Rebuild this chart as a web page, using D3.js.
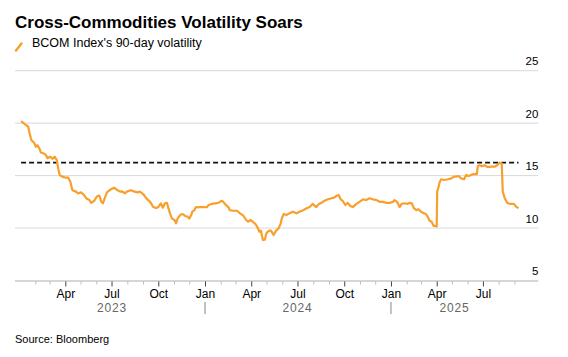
<!DOCTYPE html>
<html><head><meta charset="utf-8">
<script src="https://cdn.jsdelivr.net/npm/d3@7"></script>
<style>
html,body{margin:0;padding:0;background:#fff;}
svg{display:block;font-family:"Liberation Sans",Arial,sans-serif;}
</style></head>
<body><svg id="c" width="568" height="357"></svg>
<script>
const title = "Cross-Commodities Volatility Soars";
const seriesName = "BCOM Index's 90-day volatility";
const source = "Source: Bloomberg";
const threshold = 16.23;
const yTicks = [5, 10, 15, 20, 25];
const xDomain = ["2022-12-23", "2025-10-18"];
const dates = [
"2023-01-04","2023-01-14","2023-01-18","2023-01-21","2023-01-24","2023-01-30","2023-02-02","2023-02-05","2023-02-09","2023-02-12",
"2023-02-18","2023-02-22","2023-02-25","2023-03-02","2023-03-07","2023-03-11","2023-03-15","2023-03-18","2023-03-21","2023-03-26",
"2023-04-02","2023-04-07","2023-04-11","2023-04-15","2023-04-22","2023-04-26","2023-05-02","2023-05-08","2023-05-13","2023-05-18",
"2023-05-22","2023-05-28","2023-06-02","2023-06-07","2023-06-11","2023-06-14","2023-06-18","2023-06-22","2023-06-30","2023-07-06",
"2023-07-13","2023-07-18","2023-07-22","2023-07-27","2023-08-01","2023-08-08","2023-08-14","2023-08-21","2023-08-26","2023-09-02",
"2023-09-08","2023-09-15","2023-09-21","2023-09-27","2023-10-01","2023-10-06","2023-10-10","2023-10-14","2023-10-18","2023-10-21",
"2023-10-24","2023-10-28","2023-11-02","2023-11-05","2023-11-08","2023-11-13","2023-11-18","2023-11-23","2023-11-27","2023-12-01",
"2023-12-05","2023-12-07","2023-12-11","2023-12-14","2023-12-17","2023-12-22","2023-12-29","2024-01-05","2024-01-08","2024-01-14",
"2024-01-21","2024-01-27","2024-02-03","2024-02-06","2024-02-11","2024-02-16","2024-02-19","2024-02-25","2024-03-04","2024-03-10",
"2024-03-17","2024-03-22","2024-03-26","2024-03-30","2024-04-04","2024-04-09","2024-04-13","2024-04-17","2024-04-20","2024-04-24",
"2024-04-28","2024-04-30","2024-05-03","2024-05-07","2024-05-10","2024-05-15","2024-05-20","2024-05-25","2024-05-29","2024-05-31",
"2024-06-04","2024-06-09","2024-06-15","2024-06-22","2024-06-29","2024-07-05","2024-07-12","2024-07-19","2024-07-25","2024-07-31",
"2024-08-07","2024-08-12","2024-08-17","2024-08-23","2024-08-30","2024-09-06","2024-09-11","2024-09-15","2024-09-20","2024-09-24",
"2024-09-28","2024-10-03","2024-10-08","2024-10-13","2024-10-18","2024-10-25","2024-10-31","2024-11-07","2024-11-13","2024-11-20",
"2024-11-26","2024-12-03","2024-12-10","2024-12-16","2024-12-23","2024-12-29","2025-01-05","2025-01-08","2025-01-13","2025-01-18",
"2025-01-22","2025-01-28","2025-02-02","2025-02-07","2025-02-11","2025-02-15","2025-02-20","2025-02-24","2025-03-01","2025-03-07",
"2025-03-11","2025-03-14","2025-03-18","2025-03-22","2025-03-26","2025-03-30","2025-04-01","2025-04-02","2025-04-04","2025-04-07",
"2025-04-10","2025-04-16","2025-04-23","2025-04-30","2025-05-05","2025-05-09","2025-05-14","2025-05-19","2025-05-25","2025-05-29",
"2025-06-03","2025-06-08","2025-06-13","2025-06-19","2025-06-21","2025-06-24","2025-06-29","2025-07-04","2025-07-11","2025-07-17",
"2025-07-24","2025-07-29","2025-08-03","2025-08-07","2025-08-09","2025-08-13","2025-08-18","2025-08-24","2025-08-31","2025-09-05",
"2025-09-09"
];
const values = [
20.2,19.8,19.66,19.0,18.4,18.1,17.75,17.9,17.6,17.2,
17.1,16.96,16.65,16.8,16.6,16.8,16.5,15.7,15.05,14.9,
14.8,14.8,14.4,13.6,13.47,13.3,13.4,13.15,12.8,12.7,
12.4,12.6,13.0,13.1,12.5,12.36,12.9,13.4,13.7,13.85,
13.6,13.47,13.5,13.3,13.5,13.6,13.5,13.4,13.47,13.2,
12.8,12.5,12.0,11.9,12.0,12.36,11.94,12.36,12.4,11.9,
11.4,10.9,10.77,10.45,10.9,11.24,11.34,11.15,11.1,10.9,
11.24,11.56,11.7,12.0,11.98,12.0,12.0,12.0,12.2,12.3,
12.36,12.4,12.6,12.5,12.2,12.0,11.7,11.65,11.65,11.4,
11.15,10.77,10.6,10.77,10.6,10.4,10.1,9.65,9.75,8.86,
8.9,9.4,9.65,9.75,9.75,9.34,9.75,9.98,10.45,10.9,
11.34,11.24,11.4,11.56,11.4,11.56,11.7,11.88,12.0,12.3,
12.0,12.3,12.4,12.6,12.74,12.84,12.9,13.05,13.15,12.74,
12.6,12.2,12.4,12.1,12.0,12.3,12.5,12.74,12.67,12.84,
12.74,12.67,12.5,12.5,12.4,12.4,12.5,12.67,12.5,12.0,
12.3,12.36,12.3,12.4,12.36,11.9,11.7,11.8,11.56,11.4,
11.34,11.1,10.7,10.6,10.2,10.2,10.15,13.47,13.8,14.4,
14.65,14.58,14.65,14.74,14.9,14.9,14.96,14.74,14.65,15.06,
14.96,15.06,15.15,15.15,15.9,15.98,15.9,15.98,15.8,15.85,
15.85,15.98,16.23,16.17,13.47,12.84,12.4,12.3,12.3,12.0,
11.9
];
const majorMonths = ["2023-04-01","2023-07-01","2023-10-01","2024-01-01","2024-04-01","2024-07-01","2024-10-01","2025-01-01","2025-04-01","2025-07-01"];
const yearLabels = ["2023","2024","2025"];
const yearCenters = ["2023-07-02","2024-07-01","2025-05-06"];
const yearSeparators = ["2024-01-01","2025-01-01"];
const minorRange = ["2023-02-01","2025-09-02"];

(function(){
const parse = d3.utcParse("%Y-%m-%d");
const data = dates.map((d,i)=>({date:parse(d), value:values[i]}));

const svg = d3.select("#c");
const pl = 15, pr = 538.3, pt = 70.7, pb = 280.5;
const x = d3.scaleUtc().domain(xDomain.map(parse)).range([pl, pr]);
const y = d3.scaleLinear().domain([5,25]).range([pb, pt]);

// title & legend
svg.append("text").attr("x",15).attr("y",28).attr("font-size",17).attr("font-weight","bold").attr("fill","#000").text(title);
svg.append("line").attr("x1",16).attr("y1",50.5).attr("x2",21.5).attr("y2",43.5).attr("stroke","#f89f2c").attr("stroke-width",2.4).attr("stroke-linecap","round");
svg.append("text").attr("x",32).attr("y",46.5).attr("font-size",12.5).attr("fill","#000").text(seriesName);

// gridlines and y labels
const g = svg.append("g");
yTicks.forEach(t=>{
  if (t !== 5) g.append("line").attr("x1",pl).attr("x2",pr).attr("y1",y(t)).attr("y2",y(t)).attr("stroke","#d9d9d9").attr("stroke-width",1);
  g.append("text").attr("x",pr).attr("y",y(t)-5.5).attr("text-anchor","end").attr("font-size",11.5).attr("fill","#000").text(t);
});

// x axis line
svg.append("line").attr("x1",pl).attr("x2",pr).attr("y1",pb+0.5).attr("y2",pb+0.5).attr("stroke","#d6d6d6").attr("stroke-width",2);

// minor ticks
const minorTicks = d3.utcMonth.range(parse(minorRange[0]), parse(minorRange[1]));
const majorSet = new Set(majorMonths);
const fmtKey = d3.utcFormat("%Y-%m-%d");
const minorAxis = d3.axisBottom(x).tickValues(minorTicks.filter(d=>!majorSet.has(fmtKey(d)))).tickSize(3).tickFormat("");
const mg = svg.append("g").attr("transform",`translate(0,${pb+1})`).call(minorAxis);
mg.select(".domain").remove();
mg.selectAll(".tick line").attr("stroke","#bbb");

const majorAxis = d3.axisBottom(x).tickValues(majorMonths.map(parse)).tickSize(5).tickPadding(3).tickFormat(d3.utcFormat("%b"));
const ag = svg.append("g").attr("transform",`translate(0,${pb+1})`).call(majorAxis);
ag.select(".domain").remove();
ag.selectAll(".tick line").attr("stroke","#444");
ag.selectAll(".tick text").attr("font-size",12).attr("fill","#000").attr("font-family","Liberation Sans, Arial, sans-serif");

// year labels & separators
yearLabels.forEach((yl,i)=>{
  svg.append("text").attr("x",x(parse(yearCenters[i]))).attr("y",312).attr("text-anchor","middle")
    .attr("font-size",12).attr("letter-spacing","0.8").attr("fill","#666").text(yl);
});
yearSeparators.forEach(s=>{
  svg.append("line").attr("x1",x(parse(s))).attr("x2",x(parse(s))).attr("y1",302).attr("y2",314).attr("stroke","#999").attr("stroke-width",1.2);
});

// threshold dashed line
const ext = d3.extent(data, d=>d.date);
svg.append("line").attr("x1",x(ext[0])).attr("x2",x(ext[1])).attr("y1",y(threshold)).attr("y2",y(threshold))
  .attr("stroke","#111").attr("stroke-width",1.8).attr("stroke-dasharray","5,3");

// series line
const line = d3.line().x(d=>x(d.date)).y(d=>y(d.value));
svg.append("path").datum(data).attr("d",line).attr("fill","none").attr("stroke","#f89f2c").attr("stroke-width",2.2).attr("stroke-linejoin","round");

// source
svg.append("text").attr("x",15).attr("y",343).attr("font-size",11).attr("fill","#000").text(source);
})();
</script></body></html>
